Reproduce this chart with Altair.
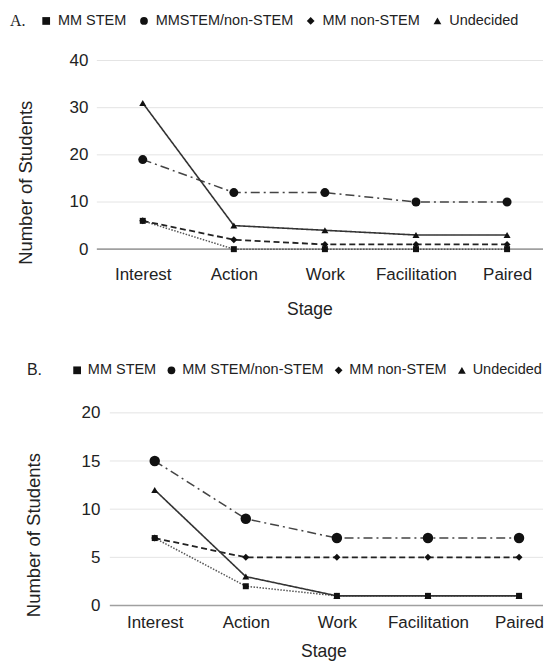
import altair as alt
import pandas as pd

stages = ["Interest", "Action", "Work", "Facilitation", "Paired"]

# Panel A
series_a = ["MM STEM", "MMSTEM/non-STEM", "MM non-STEM", "Undecided"]
a_mm_stem = [6, 0, 0, 0, 0]
a_mm_both = [19, 12, 12, 10, 10]
a_mm_non = [6, 2, 1, 1, 1]
a_undecided = [31, 5, 4, 3, 3]
a_ticks = [0, 10, 20, 30, 40]

# Panel B
series_b = ["MM STEM", "MM STEM/non-STEM", "MM non-STEM", "Undecided"]
b_mm_stem = [7, 2, 1, 1, 1]
b_mm_both = [15, 9, 7, 7, 7]
b_mm_non = [7, 5, 5, 5, 5]
b_undecided = [12, 3, 1, 1, 1]
b_ticks = [0, 5, 10, 15, 20]

shapes = ["square", "circle", "diamond", "triangle-up"]
dashes = [[1.5, 1.5], [9, 4, 2, 4], [6, 3.5], [1, 0]]
line_colors = ["#555555", "#444444", "#222222", "#333333"]
line_widths = [1.5, 1.5, 1.8, 1.6]

TEXT = "#222222"
W = 447


def panel(label, label_font, series, values, ticks, cfg):
    rows = []
    for s, vals, sz in zip(series, values, cfg["sizes"]):
        for st, v in zip(stages, vals):
            rows.append({"Series": s, "Stage": st, "Students": v, "sz": sz})
    df = pd.DataFrame(rows)
    grid = pd.DataFrame({"Students": ticks})

    yscale = alt.Scale(domain=[0, ticks[-1]], nice=False)
    xscale = alt.Scale(type="point", domain=stages, range=cfg["xrange"], padding=0)

    xenc = alt.X(
        "Stage:N", scale=xscale, sort=stages,
        axis=alt.Axis(
            title="Stage", labelAngle=0, labelFontSize=17, labelColor=TEXT,
            labelPadding=cfg["xlabpad"], ticks=False, tickSize=0, domain=False, grid=False,
            titleFontSize=17.6, titleFontWeight="normal", titleColor=TEXT,
            titleX=cfg["xtitlex"], titleY=cfg["xtitley"], titleBaseline="alphabetic",
            titleAlign="center",
        ),
    )
    yaxis = alt.Axis(
        values=ticks, title="Number of Students", labelFontSize=17, labelColor=TEXT,
        labelPadding=cfg["ylabpad"], ticks=False, tickSize=0, domain=False, grid=False,
        offset=cfg["yoffset"],
        titleFontSize=18.5, titleFontWeight="normal", titleColor=TEXT,
        titleAngle=270, titleAlign="center", titleBaseline="alphabetic",
        titleX=cfg["ytitlex"], titleY=cfg["ytitley"],
    )
    yenc = alt.Y("Students:Q", scale=yscale, axis=yaxis)

    gridlines = alt.Chart(grid).mark_rule().encode(
        y=alt.Y("Students:Q", scale=yscale, axis=yaxis),
        x=alt.value(cfg["gridx"]),
        x2=alt.value(W),
        color=alt.condition("datum.Students === 0", alt.value("#a0a0a0"), alt.value("#e4e4e4")),
        strokeWidth=alt.condition("datum.Students === 0", alt.value(1.6), alt.value(1)),
    )

    base = alt.Chart(df)
    line_layers = []
    for s, dash, col, lw in zip(series, dashes, line_colors, line_widths):
        line_layers.append(
            base.transform_filter(alt.datum.Series == s)
            .mark_line(strokeDash=dash, color=col, strokeWidth=lw)
            .encode(x=xenc, y=yenc)
        )

    leg = alt.Legend(
        title=label, titleOrient="left", titleFont=label_font, titleFontSize=16,
        titleFontWeight="normal", titleColor=TEXT, titlePadding=cfg["legtitlepad"],
        orient="none", legendX=cfg["legx"], legendY=cfg["legy"], direction="horizontal",
        labelFontSize=14.5, labelColor=TEXT, labelOffset=cfg["laboff"], columnPadding=cfg["colpad"],
        symbolFillColor="#111111", symbolStrokeColor="#111111", symbolStrokeWidth=0,
        symbolSize=60,
    )
    points = base.mark_point(filled=True, opacity=1, color="#111111").encode(
        x=xenc,
        y=yenc,
        shape=alt.Shape("Series:N", scale=alt.Scale(domain=series, range=shapes), legend=leg),
        size=alt.Size("sz:Q", scale=None),
    )
    return alt.layer(gridlines, *line_layers, points).properties(width=W, height=cfg["height"])


cfg_a = dict(
    xrange=[46, 411], gridx=0, height=189, xlabpad=17, xtitlex=213, xtitley=65,
    ylabpad=9, yoffset=0, ytitlex=-65, ytitley=122,
    legtitlepad=13, legx=-87, legy=-47, colpad=10, laboff=4.5, sizes=[36, 81, 49, 49],
)
cfg_b = dict(
    xrange=[58, 423], gridx=13, height=193, xlabpad=9, xtitlex=227, xtitley=51,
    ylabpad=10, yoffset=-13, ytitlex=-70, ytitley=122,
    legtitlepad=27, legx=-70, legy=-50, colpad=7.5, laboff=3.5, sizes=[36, 110, 49, 49],
)

chart_a = panel("A.", "Liberation Serif", series_a,
                [a_mm_stem, a_mm_both, a_mm_non, a_undecided], a_ticks, cfg_a)
chart_b = panel("B.", "Liberation Sans", series_b,
                [b_mm_stem, b_mm_both, b_mm_non, b_undecided], b_ticks, cfg_b)

chart = (
    alt.vconcat(chart_a, chart_b, spacing=45)
    .resolve_scale(shape="independent", x="independent", y="independent")
    .resolve_legend(shape="independent")
    .properties(padding={"left": 2, "top": 5, "right": 0, "bottom": 0})
    .configure(font="Liberation Sans")
    .configure_view(stroke=None)
)

chart.save("out.html", embed_options={"renderer": "svg", "actions": False})
